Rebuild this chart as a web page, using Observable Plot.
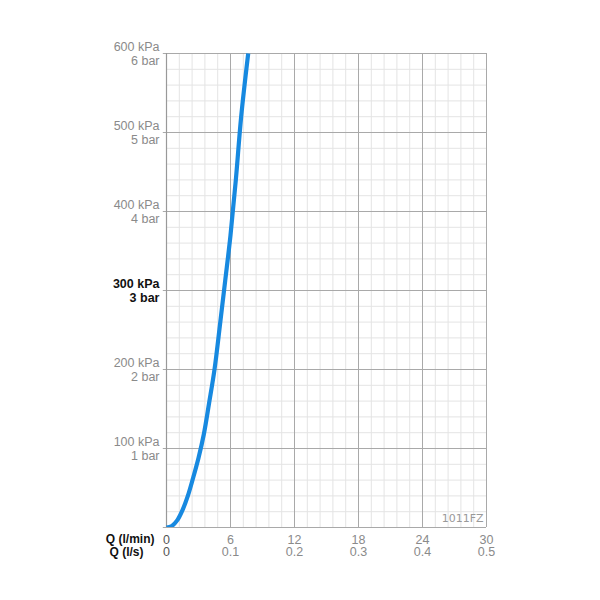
<!DOCTYPE html>
<html>
<head>
<meta charset="utf-8">
<script src="https://cdn.jsdelivr.net/npm/d3@7"></script>
<script src="https://cdn.jsdelivr.net/npm/@observablehq/plot@0.6"></script>
<style>
  html, body { margin: 0; padding: 0; background: #fff; }
  #chart { width: 600px; height: 600px; }
  svg { font-family: "Liberation Sans", Arial, Helvetica, sans-serif; }
</style>
</head>
<body>
<div id="chart"></div>
<script>
// Flow in l/min and pressure drop in kPa
const flowLmin = [0, 0.5, 1, 1.5, 2, 2.5, 3, 3.5, 4, 4.5, 5, 5.5, 6, 6.5, 7, 7.66];
const pressureKPa = [0, 2, 9, 22, 40, 63, 88, 118, 158, 200, 255, 312, 370, 440, 520, 600];

// Axis ticks
const xTicksLmin = [0, 6, 12, 18, 24, 30];
const xTicksLs = ["0", "0.1", "0.2", "0.3", "0.4", "0.5"];
const yTicksKPa = [100, 200, 300, 400, 500, 600];
const yTicksBar = ["1 bar", "2 bar", "3 bar", "4 bar", "5 bar", "6 bar"];
const xMinor = d3.range(0, 30.001, 1.2);
const yMinor = d3.range(0, 600.001, 20);
const boldTick = 300;
const modelLabel = "1011FZ";

const curveData = flowLmin.map((q, i) => ({q, p: pressureKPa[i]}));
const yLabels = yTicksKPa.map((p, i) => ({p, text: `${p} kPa\n${yTicksBar[i]}`, bold: p === boldTick}));
const xLabels = xTicksLmin.map((q, i) => ({q, ls: xTicksLs[i], zero: q === 0}));

const gray = "#8a8a8a";
const major = "#a9a9a9";
const minor = "#e4e4e4";

const yLabelOpts = {y: "p", text: "text", frameAnchor: "left", dx: -7, textAnchor: "end", lineAnchor: "middle", lineHeight: 1.08, fontSize: 12.5};

const chart = Plot.plot({
  width: 600,
  height: 600,
  marginLeft: 166,
  marginRight: 114,
  marginTop: 53,
  marginBottom: 73,
  x: {domain: [0, 30], axis: null},
  y: {domain: [0, 600], axis: null},
  style: {fontFamily: "'Liberation Sans', Arial, Helvetica, sans-serif", fontSize: "12.5px"},
  marks: [
    Plot.ruleX(xMinor, {stroke: minor, strokeWidth: 1}),
    Plot.ruleY(yMinor, {stroke: minor, strokeWidth: 1}),
    Plot.ruleX(xTicksLmin, {stroke: major, strokeWidth: 1}),
    Plot.ruleY([0, ...yTicksKPa], {x1: -0.3, x2: 30, stroke: major, strokeWidth: 1, clip: false}),
    Plot.ruleX([0], {stroke: "#999", strokeWidth: 1.2}),
    Plot.text([modelLabel], {frameAnchor: "bottom-right", dx: -3, dy: -9, lineAnchor: "middle", fill: "#999", fontSize: 11, fontFamily: "'DejaVu Sans', sans-serif", textAnchor: "end"}),
    Plot.line(curveData, {x: "q", y: "p", curve: "catmull-rom", stroke: "#1789e0", strokeWidth: 4.2, strokeLinecap: "butt", clip: true}),
    Plot.text(yLabels.filter(d => !d.bold), {...yLabelOpts, fill: gray}),
    Plot.text(yLabels.filter(d => d.bold), {...yLabelOpts, fill: "#111", fontWeight: "bold"}),
    Plot.text(xLabels, {x: "q", text: d => String(d.q), frameAnchor: "bottom", lineAnchor: "middle", dy: 12, fill: d => d.zero ? "#555" : gray, fontSize: 12.5}),
    Plot.text(xLabels, {x: "q", text: "ls", frameAnchor: "bottom", lineAnchor: "middle", dy: 24.5, fill: d => d.zero ? "#555" : gray, fontSize: 12.5}),
    Plot.text(["Q (l/min)"], {frameAnchor: "bottom-left", dx: -12, dy: 12, lineAnchor: "middle", textAnchor: "end", fontWeight: "bold", fill: "#111", fontSize: 12}),
    Plot.text(["Q (l/s)"], {frameAnchor: "bottom-left", dx: -23, dy: 24.5, lineAnchor: "middle", textAnchor: "end", fontWeight: "bold", fill: "#111", fontSize: 12})
  ]
});
document.getElementById("chart").appendChild(chart);
</script>
</body>
</html>
